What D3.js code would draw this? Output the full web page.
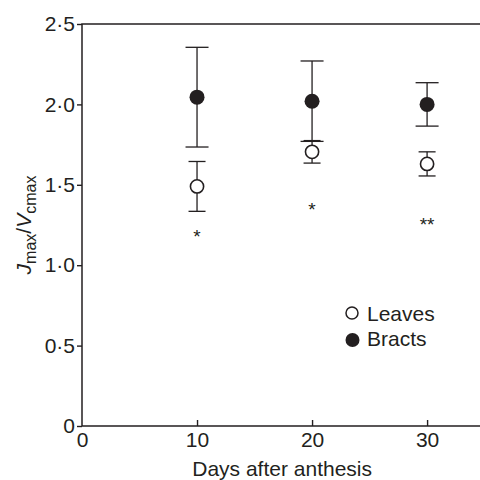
<!DOCTYPE html>
<html>
<head>
<meta charset="utf-8">
<script src="https://cdn.jsdelivr.net/npm/d3@7"></script>
<style>
  html, body { margin: 0; padding: 0; background: #fff; }
  svg { display: block; font-family: "Liberation Sans", Arial, sans-serif; }
</style>
</head>
<body>
<div id="chart"></div>
<script>
// -- Data -----------------------------------------------------------
var days        = [10, 20, 30];
var leavesMean  = [1.49, 1.705, 1.63];
var leavesErr   = [0.155, 0.07, 0.075];
var bractsMean  = [2.045, 2.02, 2.0];
var bractsErr   = [0.31, 0.25, 0.135];
var signifMarks = ["*", "*", "**"];
var signifY     = [1.2, 1.37, 1.275];
var yTicks      = [0, 0.5, 1, 1.5, 2, 2.5];
var xTicks      = [0, 10, 20, 30];

var INK = "#231f20";
var FS = "21px";
var W = 480, H = 480;
var margin = { top: 24, right: 0, bottom: 54, left: 82 };
var innerW = W - margin.left - margin.right;
var innerH = H - margin.top - margin.bottom;

var svg = d3.select("#chart").append("svg")
  .attr("width", W).attr("height", H);

var g = svg.append("g")
  .attr("transform", "translate(" + margin.left + "," + margin.top + ")");

var x = d3.scaleLinear().domain([0, 34.6]).range([0, innerW]);
var y = d3.scaleLinear().domain([0, 2.5]).range([innerH, 0]);

function fmt(v) { return v === 0 ? "0" : d3.format(".1f")(v).replace(".", "\u00b7"); }

// -- Axes ------------------------------------------------------------
var yAxis = g.append("g")
  .call(d3.axisLeft(y).tickValues(yTicks).tickFormat(fmt).tickSizeInner(5).tickSizeOuter(0).tickPadding(2));
var xAxis = g.append("g")
  .attr("transform", "translate(0," + innerH + ")")
  .call(d3.axisBottom(x).tickValues(xTicks).tickFormat(d3.format("d")).tickSizeInner(-6).tickSizeOuter(0).tickPadding(6));

[yAxis, xAxis].forEach(function (ax) {
  ax.select(".domain").remove();
  ax.selectAll("line").attr("stroke", INK).attr("stroke-width", 1.4);
  ax.selectAll("text").attr("fill", INK).attr("font-size", FS)
    .attr("font-family", "'Liberation Sans', Arial, sans-serif");
});
xAxis.selectAll(".tick").filter(function (d) { return d === 0; }).select("line").remove();

// frame: left, bottom, top (no right edge)
g.append("path")
  .attr("d", "M" + innerW + ",0H0V" + innerH + "H" + innerW)
  .attr("fill", "none").attr("stroke", INK).attr("stroke-width", 1.5);

// -- Error bars ------------------------------------------------------
function errorBars(means, errs, capW) {
  var eg = g.append("g").attr("stroke", INK).attr("stroke-width", 1.3).attr("fill", "none");
  days.forEach(function (d, i) {
    var cx = x(d), hi = y(means[i] + errs[i]), lo = y(means[i] - errs[i]);
    eg.append("line").attr("x1", cx).attr("x2", cx).attr("y1", hi).attr("y2", lo);
    eg.append("line").attr("x1", cx - capW / 2).attr("x2", cx + capW / 2).attr("y1", hi).attr("y2", hi);
    eg.append("line").attr("x1", cx - capW / 2).attr("x2", cx + capW / 2).attr("y1", lo).attr("y2", lo);
  });
}
errorBars(bractsMean, bractsErr, 23);
errorBars(leavesMean, leavesErr, 17);

// -- Points ----------------------------------------------------------
g.append("g").selectAll("circle")
  .data(days)
  .join("circle")
    .attr("cx", function (d) { return x(d); })
    .attr("cy", function (d, i) { return y(bractsMean[i]); })
    .attr("r", 7.5)
    .attr("fill", INK);

g.append("g").selectAll("circle")
  .data(days)
  .join("circle")
    .attr("cx", function (d) { return x(d); })
    .attr("cy", function (d, i) { return y(leavesMean[i]); })
    .attr("r", 6.6)
    .attr("fill", "#fff")
    .attr("stroke", INK)
    .attr("stroke-width", 1.6);

// -- Significance marks ---------------------------------------------
g.append("g").selectAll("text")
  .data(days)
  .join("text")
    .attr("x", function (d) { return x(d); })
    .attr("y", function (d, i) { return y(signifY[i]) + 10; })
    .attr("text-anchor", "middle")
    .attr("font-size", "19px")
    .attr("fill", INK)
    .text(function (d, i) { return signifMarks[i]; });

// -- Legend ----------------------------------------------------------
var lg = svg.append("g").attr("transform", "translate(352,313)");
lg.append("circle").attr("cx", 0).attr("cy", 0).attr("r", 6)
  .attr("fill", "#fff").attr("stroke", INK).attr("stroke-width", 1.5);
lg.append("text").attr("x", 15).attr("y", 7.5).attr("font-size", FS).attr("fill", INK).text("Leaves");
lg.append("circle").attr("cx", 0.5).attr("cy", 27).attr("r", 7).attr("fill", INK);
lg.append("text").attr("x", 15).attr("y", 32.5).attr("font-size", FS).attr("fill", INK).text("Bracts");

// -- Axis titles -----------------------------------------------------
svg.append("text")
  .attr("x", margin.left + x(17.4)).attr("y", 476)
  .attr("text-anchor", "middle")
  .attr("font-size", FS).attr("fill", INK)
  .text("Days after anthesis");

var yl = svg.append("text")
  .attr("transform", "translate(31,225) rotate(-90)")
  .attr("text-anchor", "middle")
  .attr("font-size", FS).attr("fill", INK);
yl.append("tspan").attr("font-style", "italic").text("J");
yl.append("tspan").attr("font-size", "16px").attr("dy", 5).text("max");
yl.append("tspan").attr("dy", -5).text("/");
yl.append("tspan").attr("font-style", "italic").text("V");
yl.append("tspan").attr("font-size", "16px").attr("dy", 5).text("cmax");
</script>
</body>
</html>
